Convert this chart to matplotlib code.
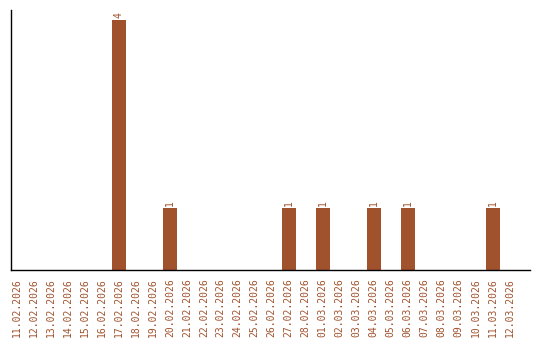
import matplotlib
matplotlib.use("Agg")
import matplotlib.pyplot as plt

BROWN = "#a0522d"

dates = (
    [f"{d:02d}.02.2026" for d in range(11, 29)]
    + [f"{d:02d}.03.2026" for d in range(1, 13)]
)
counts = [0, 0, 0, 0, 0, 0, 4, 0, 0, 1, 0, 0, 0, 0, 0, 0, 1, 0,
          1, 0, 0, 1, 0, 1, 0, 0, 0, 0, 1, 0]

fig = plt.figure(figsize=(5.4, 3.4), dpi=100)
ax = fig.add_axes([11 / 540, 70 / 340, 519 / 540, 260 / 340])

x = list(range(len(dates)))
ax.bar(x, counts, width=0.82, color=BROWN)

for xi, c in zip(x, counts):
    if c > 0:
        ax.text(xi, c + 0.03, str(c), rotation=90, ha="center", va="bottom",
                color=BROWN, fontsize=7, family="DejaVu Sans Mono")

ax.set_xlim(-0.35, 30.2)
ax.set_ylim(0, 4.16)
ax.set_xticks(x)
ax.set_xticklabels(dates, rotation=90, color=BROWN, fontsize=7, family="DejaVu Sans Mono")
ax.tick_params(axis="x", length=0, pad=6)
ax.set_yticks([])
for side in ("top", "right"):
    ax.spines[side].set_visible(False)
ax.spines["left"].set_linewidth(1.0)
ax.spines["bottom"].set_linewidth(1.0)

fig.savefig("out.png", dpi=100)
